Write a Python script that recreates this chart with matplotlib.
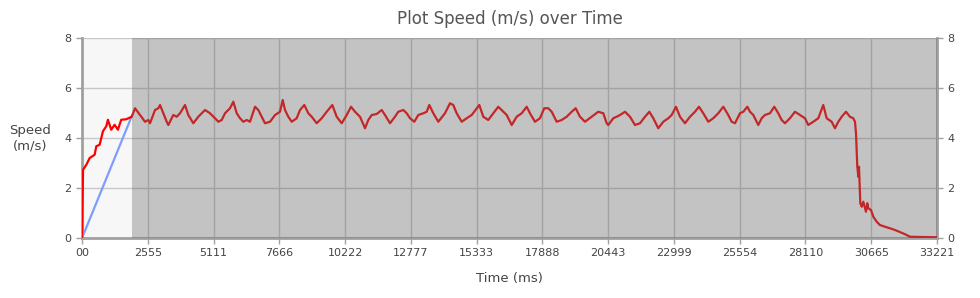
import numpy as np
import matplotlib.pyplot as plt

# speed trace (ms, m/s)
time_ms = [0, 39, 168, 297, 490, 555, 684, 813, 942, 1006, 1135, 1265, 1394, 1523, 1716,
           1931, 2059, 2254, 2448, 2576, 2642, 2836, 2965, 3031, 3159, 3291, 3353, 3547, 3680,
           3808, 4002, 4130, 4324, 4519, 4779, 4973, 5168, 5296, 5428, 5556, 5750, 5879, 6011,
           6139, 6267, 6399, 6527,
           6722, 6850, 6982, 7110, 7305, 7500, 7693, 7798, 7887, 8016, 8148, 8342, 8470, 8637,
           8793, 8925, 9119, 9313, 9508, 9725, 9896, 10090, 10285, 10452, 10608, 10802, 10996,
           11124, 11256, 11450, 11645, 11773, 11968, 12161, 12290, 12484, 12617, 12746, 12911,
           13067, 13261, 13393, 13494, 13650, 13844, 14104, 14298, 14426, 14558, 14753, 14947,
           15141, 15437, 15592,
           15786, 15981, 16175, 16369, 16501, 16696, 16890, 17084, 17278, 17406, 17600, 17795,
           17962, 18117, 18250, 18444, 18638, 18832, 19027, 19182, 19349, 19544, 19804, 20061,
           20255, 20387,
           20449, 20643, 20776, 20905, 21099, 21293, 21487, 21681, 21876, 22043, 22198, 22392,
           22586, 22781, 22913, 23079, 23235, 23429, 23624, 23818, 23973, 24140, 24335, 24529,
           24723, 24917,
           25111, 25244, 25373, 25567, 25695, 25851, 25956, 26084, 26277, 26409, 26537, 26732,
           26899, 27054, 27186, 27314, 27508, 27703, 27897, 28091, 28219, 28414, 28609, 28803,
           28935, 29129,
           29257, 29386, 29518, 29685, 29840, 29969, 30035, 30074, 30101, 30125, 30140, 30164,
           30191, 30218, 30242, 30296, 30358, 30424, 30463, 30513, 30552, 30657, 30747, 30879,
           31005, 31200, 31394, 31588, 31849, 32043, 32171, 33221]
speed = [0.0, 2.73, 2.93, 3.2, 3.33, 3.67, 3.73, 4.27, 4.47, 4.73, 4.33, 4.53, 4.33, 4.73, 4.75,
         4.85, 5.19, 4.92, 4.65, 4.72, 4.59, 5.12, 5.19, 5.32, 4.99, 4.65, 4.52, 4.92, 4.85,
         4.99, 5.32, 4.92, 4.59, 4.85, 5.12, 4.99, 4.79, 4.65, 4.72, 4.99, 5.19, 5.45, 4.99,
         4.79, 4.65, 4.72, 4.65,
         5.25, 5.12, 4.85, 4.59, 4.65, 4.92, 5.05, 5.52, 5.12, 4.85, 4.65, 4.79, 5.12,
         5.32, 4.99, 4.85, 4.59, 4.79, 5.05, 5.32, 4.85, 4.59, 4.92, 5.25, 5.05, 4.85, 4.39,
         4.72, 4.92, 4.96, 5.12, 4.92, 4.59, 4.85, 5.05, 5.12, 4.99, 4.79, 4.65,
         4.92, 4.99, 5.05, 5.32, 4.99, 4.65, 4.99, 5.39, 5.32, 4.99, 4.65, 4.79,
         4.92, 5.32, 4.85,
         4.72, 4.99, 5.25, 5.05, 4.92, 4.52, 4.85, 4.99, 5.25, 4.99, 4.65, 4.79,
         5.19, 5.19, 5.05, 4.65, 4.72, 4.85, 5.05, 5.19, 4.85, 4.65, 4.85, 5.05,
         4.99, 4.59,
         4.52, 4.79, 4.85, 4.92, 5.05, 4.85, 4.52, 4.59, 4.85, 5.05, 4.79, 4.39,
         4.65, 4.79, 4.92, 5.25, 4.85, 4.59, 4.85, 5.05, 5.25, 4.99, 4.65, 4.79,
         4.99, 5.25,
         4.92, 4.65, 4.59, 4.99, 5.05, 5.25, 5.05, 4.92, 4.52, 4.79, 4.92, 4.99,
         5.25, 4.99, 4.72, 4.59, 4.79, 5.05, 4.92, 4.79, 4.52, 4.65, 4.79, 5.32,
         4.79, 4.65,
         4.39, 4.65, 4.85, 5.05, 4.85, 4.79, 4.65, 4.19, 3.52, 2.85, 2.72, 2.45,
         2.85, 2.05, 1.39, 1.25, 1.45, 1.19, 1.05, 1.39, 1.19, 1.12, 0.85, 0.65,
         0.52, 0.45, 0.39, 0.32, 0.21, 0.12, 0.05, 0.03]

# straight reference ramp during warm-up
ramp_time = [0, 1943]
ramp_speed = [0.0, 4.9]

warmup_end = 1943
t_max = 33221
tick_vals = [0, 2555, 5111, 7666, 10222, 12777, 15333, 17888, 20443, 22999, 25554, 28110, 30665, 33221]
tick_labels = ['00', '2555', '5111', '7666', '10222', '12777', '15333', '17888', '20443',
               '22999', '25554', '28110', '30665', '33221']

fig = plt.figure(figsize=(9.8, 2.98), dpi=100)
ax = fig.add_axes([0.0837, 0.2013, 0.8724, 0.6712])

ax.axvspan(0, warmup_end, color='#f7f7f7', zorder=0, lw=0)
ax.plot(ramp_time, ramp_speed, color='#7f9cff', linewidth=1.6, zorder=3)
ax.plot(time_ms, speed, color='#ff0000', linewidth=1.6, zorder=3)
# grey overlay across the run
ax.axvspan(warmup_end, t_max, color=(0.40, 0.40, 0.40), alpha=0.39, zorder=4, lw=0)

ax.set_xlim(0, t_max)
ax.set_ylim(0, 8)
ax.set_xticks(tick_vals)
ax.set_xticklabels(tick_labels)
ax.set_yticks([0, 2, 4, 6, 8])
ax.grid(True, color='#c8c8c8', linewidth=1, zorder=1)
ax.set_axisbelow(True)

for side in ['left', 'bottom', 'right']:
    ax.spines[side].set_color('#a0a0a0')
    ax.spines[side].set_linewidth(2)
ax.spines['top'].set_visible(False)
ax.tick_params(colors='#a0a0a0', labelcolor='#444444', labelsize=8, length=4, width=1)
ax.tick_params(axis='y', right=True, labelright=True)

ax.set_title('Plot Speed (m/s) over Time', fontsize=12, color='#555555', pad=10)
ax.set_xlabel('Time (ms)', fontsize=9.5, color='#444444', labelpad=10)
ax.set_ylabel('Speed\n(m/s)', fontsize=9.5, color='#444444', rotation=0,
              ha='center', va='center', labelpad=25)

fig.savefig('out.png', dpi=100)
